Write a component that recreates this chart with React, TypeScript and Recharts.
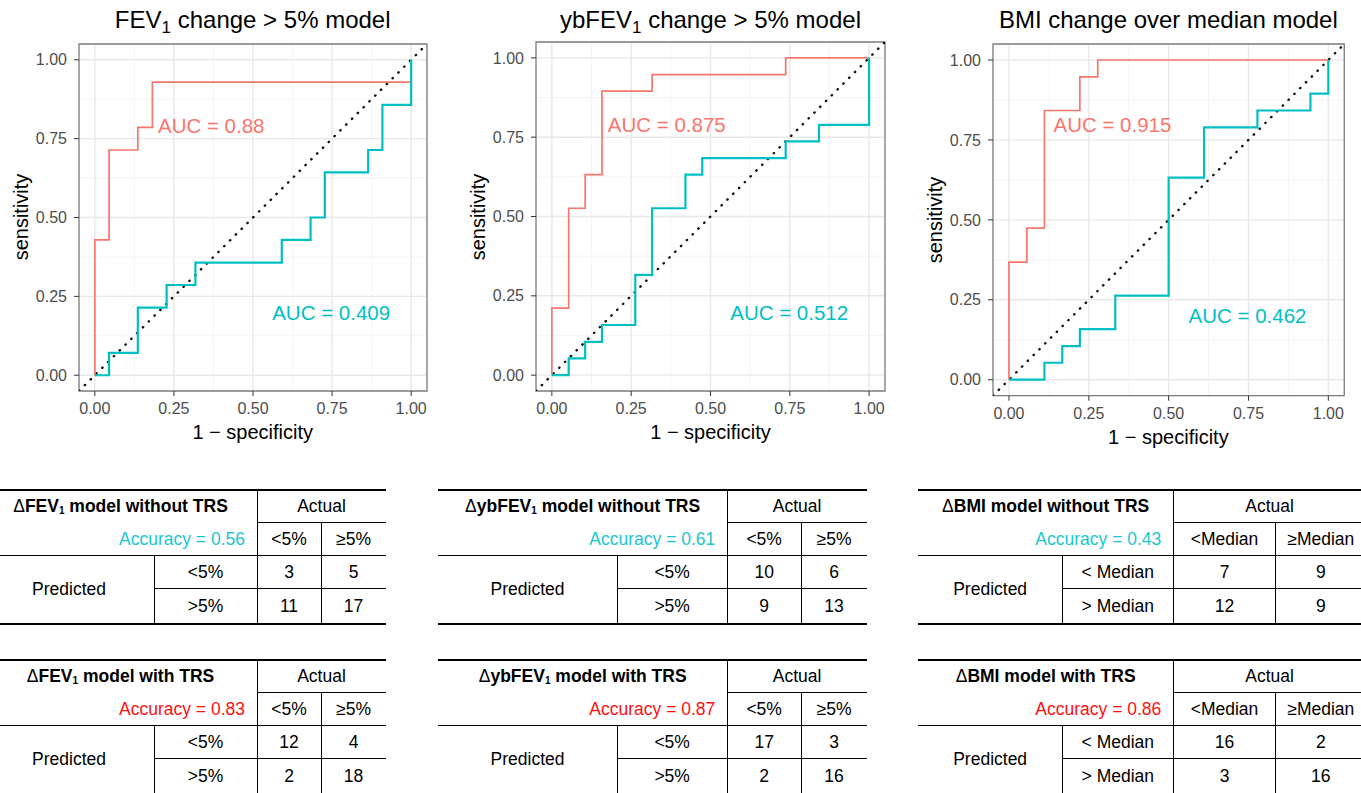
import React from 'react';
import {
  LineChart,
  Line,
  XAxis,
  YAxis,
  CartesianGrid,
  ReferenceArea,
  ReferenceDot,
} from 'recharts';

// ============================================================================
// DATA
// ============================================================================

const axisTicks = [0, 0.25, 0.5, 0.75, 1];
const minorTicks = [0.125, 0.375, 0.625, 0.875];
const diagonal = [-0.05, 1.05];

// FEV1 change > 5%
const fevTrsFpr = [0, 0, 0.045, 0.136, 0.182, 1];
const fevTrsTpr = [0, 0.429, 0.714, 0.786, 0.929, 1];
const fevBaseFpr = [0, 0.045, 0.136, 0.227, 0.318, 0.591, 0.682, 0.727, 0.864, 0.909, 1];
const fevBaseTpr = [0, 0.071, 0.214, 0.286, 0.357, 0.429, 0.5, 0.643, 0.714, 0.857, 1];

// ybFEV1 change > 5%
const ybTrsFpr = [0, 0, 0.053, 0.105, 0.158, 0.316, 0.737, 1];
const ybTrsTpr = [0, 0.211, 0.526, 0.632, 0.895, 0.947, 1, 1];
const ybBaseFpr = [0, 0.053, 0.105, 0.158, 0.263, 0.316, 0.421, 0.474, 0.737, 0.842, 1];
const ybBaseTpr = [0, 0.053, 0.105, 0.158, 0.316, 0.526, 0.632, 0.684, 0.737, 0.789, 1];

// BMI change over median
const bmiTrsFpr = [0, 0, 0.056, 0.111, 0.222, 0.278, 1];
const bmiTrsTpr = [0, 0.368, 0.474, 0.842, 0.947, 1, 1];
const bmiBaseFpr = [0, 0.111, 0.167, 0.222, 0.333, 0.5, 0.611, 0.778, 0.944, 1];
const bmiBaseTpr = [0, 0.053, 0.105, 0.158, 0.263, 0.632, 0.789, 0.842, 0.895, 1];

// confusion tables: rows = predicted, cols = actual
const pctHeads = ['<5%', '≥5%'];
const pctRows = ['<5%', '>5%'];
const medHeads = ['<Median', '≥Median'];
const medRows = ['< Median', '> Median'];

const fevNoTrs = [[3, 5], [11, 17]];
const fevWithTrs = [[12, 4], [2, 18]];
const ybNoTrs = [[10, 6], [9, 13]];
const ybWithTrs = [[17, 3], [2, 16]];
const bmiNoTrs = [[7, 9], [12, 9]];
const bmiWithTrs = [[16, 2], [3, 16]];

const accuracyNoTrs = ['0.56', '0.61', '0.43'];
const accuracyWithTrs = ['0.83', '0.87', '0.86'];

// ============================================================================
// STYLE
// ============================================================================

const FONT = '"Liberation Sans", Arial, Helvetica, sans-serif';
const RED = '#F8766D';
const CYAN = '#00BFC4';
const ACC_CYAN = '#1CC6D0';
const ACC_RED = '#FF1010';

const toPoints = (xs: number[], ys: number[]) => xs.map((x, i) => ({ x, y: ys[i] }));

// ============================================================================
// ROC PANEL
// ============================================================================

interface Box { left: number; top: number; w: number; h: number }

interface RocPanelProps {
  box: Box;
  title: React.ReactNode;
  red: { x: number; y: number }[];
  cyan: { x: number; y: number }[];
  redAuc: string;
  cyanAuc: string;
  redAt: [number, number];
  cyanAt: [number, number];
}

const RocPanel = ({ box, title, red, cyan, redAuc, cyanAuc, redAt, cyanAt }: RocPanelProps) => {
  const padL = 80, padT = 10, padR = 10, padB = 60;
  const diag = toPoints(diagonal, diagonal);
  const cx = box.left + box.w / 2;
  const cy = box.top + box.h / 2;

  return (
    <>
      <div style={{ position: 'absolute', left: box.left - padL, top: box.top - padT }}>
        <LineChart
          width={box.w + padL + padR}
          height={box.h + padT + padB}
          margin={{ top: padT, right: padR, left: 0, bottom: 0 }}
        >
          <CartesianGrid
            stroke="#f3f3f3"
            strokeWidth={0.9}
            verticalValues={minorTicks}
            horizontalValues={minorTicks}
          />
          <CartesianGrid stroke="#e8e8e8" strokeWidth={1.4} />
          <XAxis
            type="number"
            dataKey="x"
            domain={[-0.05, 1.05]}
            ticks={axisTicks}
            allowDataOverflow
            height={padB}
            axisLine={false}
            tickLine={{ stroke: '#333' }}
            tickSize={5}
            tickMargin={7}
            tick={{ fill: '#4d4d4d', fontSize: 16, fontFamily: FONT }}
            tickFormatter={(v: number) => v.toFixed(2)}
          />
          <YAxis
            type="number"
            dataKey="y"
            domain={[-0.05, 1.05]}
            ticks={axisTicks}
            allowDataOverflow
            width={padL}
            axisLine={false}
            tickLine={{ stroke: '#333' }}
            tickSize={5}
            tickMargin={7}
            tick={{ fill: '#4d4d4d', fontSize: 16, fontFamily: FONT }}
            tickFormatter={(v: number) => v.toFixed(2)}
          />
          <Line
            data={diag}
            dataKey="y"
            type="linear"
            stroke="#111"
            strokeWidth={2.4}
            strokeDasharray="0.4 7.8"
            strokeLinecap="round"
            dot={false}
            activeDot={false}
            isAnimationActive={false}
          />
          <Line
            data={red}
            dataKey="y"
            type="stepAfter"
            stroke={RED}
            strokeWidth={1.7}
            dot={false}
            activeDot={false}
            isAnimationActive={false}
          />
          <Line
            data={cyan}
            dataKey="y"
            type="stepAfter"
            stroke={CYAN}
            strokeWidth={2.2}
            dot={false}
            activeDot={false}
            isAnimationActive={false}
          />
          <ReferenceDot
            x={redAt[0]}
            y={redAt[1]}
            r={0}
            fill="none"
            stroke="none"
            label={{ value: redAuc, position: 'center', fill: RED, fontSize: 20.5, fontFamily: FONT }}
          />
          <ReferenceDot
            x={cyanAt[0]}
            y={cyanAt[1]}
            r={0}
            fill="none"
            stroke="none"
            label={{ value: cyanAuc, position: 'center', fill: CYAN, fontSize: 20.5, fontFamily: FONT }}
          />
          <ReferenceArea
            x1={-0.05}
            x2={1.05}
            y1={-0.05}
            y2={1.05}
            fill="none"
            fillOpacity={0}
            stroke="#808080"
            strokeWidth={1.3}
            ifOverflow="visible"
          />
        </LineChart>
      </div>

      {/* title */}
      <div
        style={{
          position: 'absolute', left: cx, top: 8, transform: 'translateX(-50%)',
          fontFamily: FONT, fontSize: 24, lineHeight: '24px', color: '#000', whiteSpace: 'nowrap',
        }}
      >
        {title}
      </div>

      {/* axis titles */}
      <div
        style={{
          position: 'absolute', left: cx, top: box.top + box.h + 41 - 10, transform: 'translateX(-50%)',
          fontFamily: FONT, fontSize: 20, lineHeight: '20px', color: '#000', whiteSpace: 'nowrap',
        }}
      >
        1 − specificity
      </div>
      <div
        style={{
          position: 'absolute', left: box.left - 58, top: cy,
          transform: 'translate(-50%, -50%) rotate(-90deg)',
          fontFamily: FONT, fontSize: 20, lineHeight: '20px', color: '#000', whiteSpace: 'nowrap',
        }}
      >
        sensitivity
      </div>
    </>
  );
};

// ============================================================================
// CONFUSION TABLE
// ============================================================================

interface TableProps {
  cols: number[];
  rows: number[];
  title: React.ReactNode;
  accuracy: string;
  accColor: string;
  heads: string[];
  rowHeads: string[];
  values: number[][];
}

const hLine = (x1: number, x2: number, y: number, t: number, key: string) => (
  <div key={key} style={{ position: 'absolute', left: x1, width: x2 - x1, top: y - t / 2, height: t, background: '#000' }} />
);
const vLine = (x: number, y1: number, y2: number, key: string) => (
  <div key={key} style={{ position: 'absolute', left: x - 0.5, width: 1, top: y1, height: y2 - y1, background: '#000' }} />
);

const Cell = ({ x1, x2, y1, y2, children, align = 'center', color = '#000', bold = false }: {
  x1: number; x2: number; y1: number; y2: number; children: React.ReactNode;
  align?: 'center' | 'right'; color?: string; bold?: boolean;
}) => (
  <div
    style={{
      position: 'absolute', left: x1, width: x2 - x1, top: y1, height: y2 - y1,
      display: 'flex', alignItems: 'center',
      justifyContent: align === 'right' ? 'flex-end' : 'center',
      paddingRight: align === 'right' ? 12 : 0, boxSizing: 'border-box',
      fontFamily: FONT, fontSize: 17.5, color, fontWeight: bold ? 700 : 400, whiteSpace: 'nowrap',
    }}
  >
    <span>{children}</span>
  </div>
);

const ConfTable = ({ cols, rows, title, accuracy, accColor, heads, rowHeads, values }: TableProps) => {
  const [x0, x1, x2, x3, x4] = cols;
  const [y0, y1, y2, y3, y4] = rows;
  return (
    <>
      {hLine(x0, x4, y0, 2, 't')}
      {hLine(x2, x4, y1, 1, 'a')}
      {hLine(x0, x4, y2, 1.2, 'b')}
      {hLine(x1, x4, y3, 1, 'c')}
      {hLine(x0, x4, y4, 2, 'd')}
      {vLine(x2, y0, y4, 'v1')}
      {vLine(x3, y1, y4, 'v2')}
      {vLine(x1, y2, y4, 'v3')}
      <Cell x1={x0} x2={x2} y1={y0} y2={y1} bold>{title}</Cell>
      <Cell x1={x2} x2={x4} y1={y0} y2={y1}>Actual</Cell>
      <Cell x1={x0} x2={x2} y1={y1} y2={y2} align="right" color={accColor}>Accuracy = {accuracy}</Cell>
      <Cell x1={x2} x2={x3} y1={y1} y2={y2}>{heads[0]}</Cell>
      <Cell x1={x3} x2={x4} y1={y1} y2={y2}>{heads[1]}</Cell>
      <Cell x1={x0} x2={x1} y1={y2} y2={y4}>Predicted</Cell>
      <Cell x1={x1} x2={x2} y1={y2} y2={y3}>{rowHeads[0]}</Cell>
      <Cell x1={x1} x2={x2} y1={y3} y2={y4}>{rowHeads[1]}</Cell>
      <Cell x1={x2} x2={x3} y1={y2} y2={y3}>{values[0][0]}</Cell>
      <Cell x1={x3} x2={x4} y1={y2} y2={y3}>{values[0][1]}</Cell>
      <Cell x1={x2} x2={x3} y1={y3} y2={y4}>{values[1][0]}</Cell>
      <Cell x1={x3} x2={x4} y1={y3} y2={y4}>{values[1][1]}</Cell>
    </>
  );
};

const Sub = ({ children, size = 17, drop = 5 }: { children: React.ReactNode; size?: number; drop?: number }) => (
  <span style={{ fontSize: size, position: 'relative', top: drop }}>{children}</span>
);

const Delta = () => <span style={{ fontWeight: 400 }}>Δ</span>;

// ============================================================================
// APP
// ============================================================================

const upperRows = [490.2, 522.5, 555.5, 588.5, 623.7];
const lowerRows = [660.2, 692.5, 725.5, 758.5, 794];
const fevCols = [-16, 154, 257, 321, 386];
const ybCols = [438, 617, 727.3, 801, 867];
const bmiCols = [918, 1062.3, 1173.3, 1275.7, 1366];

export default function App() {
  return (
    <div
      style={{
        position: 'absolute', left: 0, top: 0, width: 1361, height: 793,
        background: '#fff', overflow: 'hidden',
      }}
    >
      <RocPanel
        box={{ left: 78.7, top: 43.5, w: 348, h: 347 }}
        title={<>FEV<Sub>1</Sub> change &gt; 5% model</>}
        red={toPoints(fevTrsFpr, fevTrsTpr)}
        cyan={toPoints(fevBaseFpr, fevBaseTpr)}
        redAuc="AUC = 0.88"
        cyanAuc="AUC = 0.409"
        redAt={[0.368, 0.79]}
        cyanAt={[0.747, 0.199]}
      />
      <RocPanel
        box={{ left: 536, top: 42, w: 349, h: 349 }}
        title={<>ybFEV<Sub>1</Sub> change &gt; 5% model</>}
        red={toPoints(ybTrsFpr, ybTrsTpr)}
        cyan={toPoints(ybBaseFpr, ybBaseTpr)}
        redAuc="AUC = 0.875"
        cyanAuc="AUC = 0.512"
        redAt={[0.362, 0.788]}
        cyanAt={[0.748, 0.197]}
      />
      <RocPanel
        box={{ left: 992.7, top: 44, w: 351.3, h: 351.7 }}
        title="BMI change over median model"
        red={toPoints(bmiTrsFpr, bmiTrsTpr)}
        cyan={toPoints(bmiBaseFpr, bmiBaseTpr)}
        redAuc="AUC = 0.915"
        cyanAuc="AUC = 0.462"
        redAt={[0.324, 0.797]}
        cyanAt={[0.747, 0.2]}
      />

      <ConfTable
        cols={fevCols} rows={upperRows}
        title={<><Delta />FEV<Sub size={10} drop={2}>1</Sub> model without TRS</>}
        accuracy={accuracyNoTrs[0]} accColor={ACC_CYAN}
        heads={pctHeads} rowHeads={pctRows} values={fevNoTrs}
      />
      <ConfTable
        cols={fevCols} rows={lowerRows}
        title={<><Delta />FEV<Sub size={10} drop={2}>1</Sub> model with TRS</>}
        accuracy={accuracyWithTrs[0]} accColor={ACC_RED}
        heads={pctHeads} rowHeads={pctRows} values={fevWithTrs}
      />
      <ConfTable
        cols={ybCols} rows={upperRows}
        title={<><Delta />ybFEV<Sub size={10} drop={2}>1</Sub> model without TRS</>}
        accuracy={accuracyNoTrs[1]} accColor={ACC_CYAN}
        heads={pctHeads} rowHeads={pctRows} values={ybNoTrs}
      />
      <ConfTable
        cols={ybCols} rows={lowerRows}
        title={<><Delta />ybFEV<Sub size={10} drop={2}>1</Sub> model with TRS</>}
        accuracy={accuracyWithTrs[1]} accColor={ACC_RED}
        heads={pctHeads} rowHeads={pctRows} values={ybWithTrs}
      />
      <ConfTable
        cols={bmiCols} rows={upperRows}
        title={<><Delta />BMI model without TRS</>}
        accuracy={accuracyNoTrs[2]} accColor={ACC_CYAN}
        heads={medHeads} rowHeads={medRows} values={bmiNoTrs}
      />
      <ConfTable
        cols={bmiCols} rows={lowerRows}
        title={<><Delta />BMI model with TRS</>}
        accuracy={accuracyWithTrs[2]} accColor={ACC_RED}
        heads={medHeads} rowHeads={medRows} values={bmiWithTrs}
      />
    </div>
  );
}
